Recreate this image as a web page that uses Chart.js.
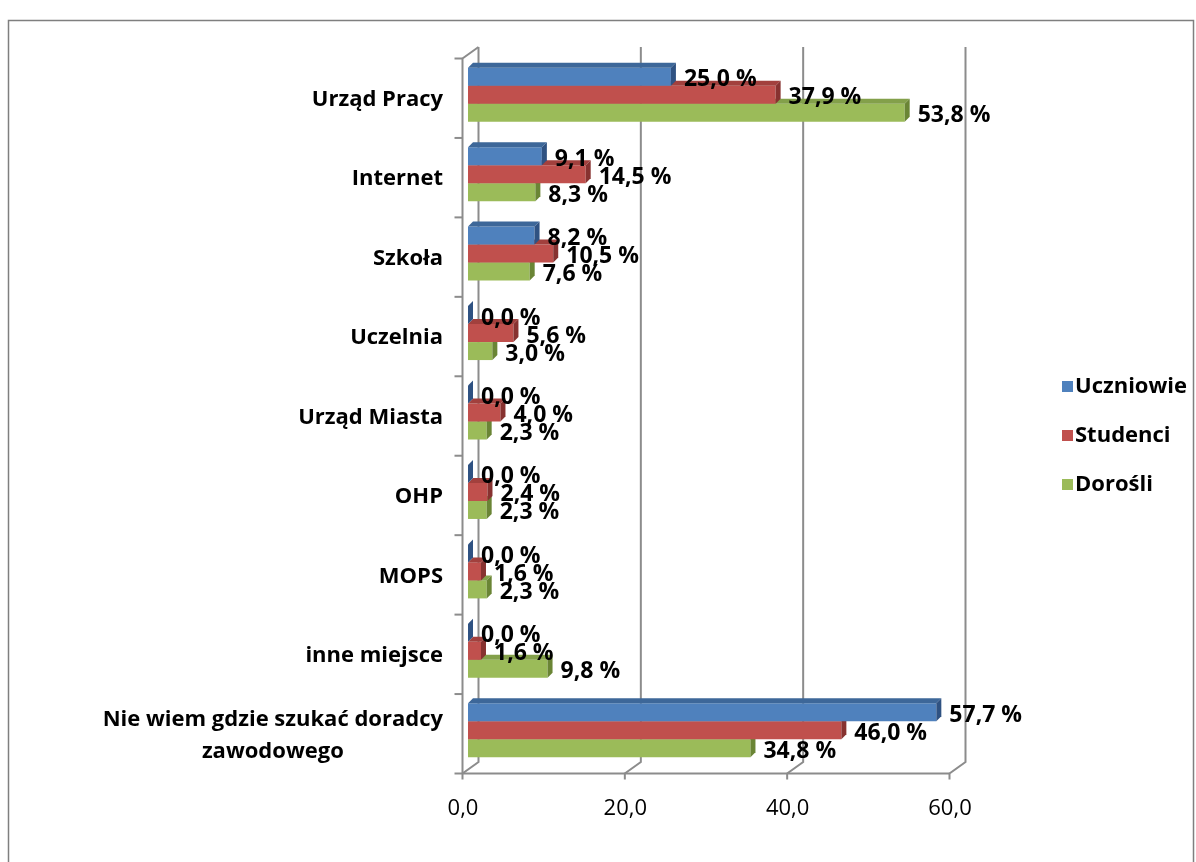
<!DOCTYPE html>
<html>
<head>
<meta charset="utf-8">
<script src="https://cdn.jsdelivr.net/npm/chart.js@4.4.0/dist/chart.umd.min.js"></script>
<style>
  body { margin: 0; background: #fff; }
  canvas { display: block; }
</style>
</head>
<body>
<canvas id="chart" width="1196" height="862"></canvas>
<script>
const categories = ['Urząd Pracy', 'Internet', 'Szkoła', 'Uczelnia', 'Urząd Miasta', 'OHP', 'MOPS', 'inne miejsce', ['Nie wiem gdzie szukać doradcy', 'zawodowego']];
const seriesNames = ['Uczniowie', 'Studenci', 'Dorośli'];
const uczniowie = [25.0, 9.1, 8.2, 0.0, 0.0, 0.0, 0.0, 0.0, 57.7];
const studenci = [37.9, 14.5, 10.5, 5.6, 4.0, 2.4, 1.6, 1.6, 46.0];
const dorosli = [53.8, 8.3, 7.6, 3.0, 2.3, 2.3, 2.3, 9.8, 34.8];
const xTicks = [0, 20, 40, 60];

const FONT = "'Open Sans', 'DejaVu Sans', sans-serif";
const colors = ['#4F81BD', '#C0504D', '#9BBB59'];
const topColors = ['#3D6799', '#A2403D', '#83A04A'];
const sideColors = ['#2F5282', '#873230', '#6A8535'];

// przesuniecia "3D" wzgledem plaszczyzny slupkow
const BX = 10.5, BY = -8, FX = -5.5, FY = 3.5, D = 5;

function fmt(v) {
  return v.toFixed(1).replace('.', ',');
}

const frame = {
  id: 'frame',
  beforeDraw(chart) {
    const ctx = chart.ctx;
    ctx.save();
    ctx.strokeStyle = '#7f7f7f';
    ctx.lineWidth = 1.5;
    ctx.strokeRect(8.5, 20.5, 1185, 900);
    ctx.restore();
  }
};

const walls = {
  id: 'walls',
  beforeDatasetsDraw(chart) {
    const ctx = chart.ctx, xs = chart.scales.x, ys = chart.scales.y, a = chart.chartArea;
    const px0 = xs.getPixelForValue(0);
    ctx.save();
    ctx.strokeStyle = '#8c8c8c';
    ctx.lineWidth = 2;
    xTicks.forEach(v => {
      const px = xs.getPixelForValue(v);
      ctx.beginPath();
      ctx.moveTo(px + BX, a.top + BY);
      ctx.lineTo(px + BX, a.bottom + BY);
      ctx.lineTo(px + FX, a.bottom + FY);
      ctx.lineTo(px + FX, a.bottom + FY + 6);
      ctx.stroke();
    });
    // os pozioma z przodu
    ctx.beginPath();
    ctx.moveTo(px0 + FX, a.bottom + FY);
    ctx.lineTo(xs.getPixelForValue(60) + FX, a.bottom + FY);
    ctx.stroke();
    // lewa sciana
    ctx.beginPath();
    ctx.moveTo(px0 + FX, a.bottom + FY);
    ctx.lineTo(px0 + FX, a.top + FY);
    ctx.lineTo(px0 + BX, a.top + BY);
    ctx.stroke();
    for (let i = 0; i <= categories.length; i++) {
      const y = ys.getPixelForValue(i - 0.5) + FY;
      ctx.beginPath();
      ctx.moveTo(px0 + FX - 8, y);
      ctx.lineTo(px0 + FX, y);
      ctx.stroke();
    }
    ctx.restore();
  }
};

const bars3d = {
  id: 'bars3d',
  afterDatasetDraw(chart, args) {
    const ctx = chart.ctx;
    const i = args.index;
    ctx.save();
    args.meta.data.forEach(el => {
      const p = el.getProps(['x', 'y', 'base', 'height'], true);
      const x0 = p.base, x1 = p.x, yt = p.y - p.height / 2, yb = p.y + p.height / 2;
      ctx.fillStyle = topColors[i];
      ctx.beginPath();
      ctx.moveTo(x0, yt);
      ctx.lineTo(x1, yt);
      ctx.lineTo(x1 + D, yt - D);
      ctx.lineTo(x0 + D, yt - D);
      ctx.closePath();
      ctx.fill();
      ctx.fillStyle = sideColors[i];
      ctx.beginPath();
      ctx.moveTo(x1, yt);
      ctx.lineTo(x1 + D, yt - D);
      ctx.lineTo(x1 + D, yb - D);
      ctx.lineTo(x1, yb);
      ctx.closePath();
      ctx.fill();
    });
    ctx.restore();
  },
  afterDatasetsDraw(chart) {
    const ctx = chart.ctx;
    ctx.save();
    ctx.font = 'bold 23px ' + FONT;
    ctx.fillStyle = '#000';
    ctx.textAlign = 'left';
    ctx.textBaseline = 'middle';
    chart.data.datasets.forEach((ds, i) => {
      chart.getDatasetMeta(i).data.forEach((el, j) => {
        const p = el.getProps(['x', 'y'], true);
        ctx.fillText(fmt(ds.data[j]) + ' %', p.x + 13, p.y + 3);
      });
    });
    ctx.restore();
  }
};

const labelsAndLegend = {
  id: 'labelsAndLegend',
  afterDraw(chart) {
    const ctx = chart.ctx, ys = chart.scales.y;
    ctx.save();
    ctx.font = 'bold 22px ' + FONT;
    ctx.fillStyle = '#000';
    ctx.textBaseline = 'middle';
    const right = 443;
    categories.forEach((c, i) => {
      const y = ys.getPixelForValue(i) + 5;
      if (Array.isArray(c)) {
        const w = Math.max(...c.map(s => ctx.measureText(s).width));
        ctx.textAlign = 'center';
        c.forEach((s, k) => {
          ctx.fillText(s, right - w / 2, y + (k - (c.length - 1) / 2) * 32);
        });
      } else {
        ctx.textAlign = 'right';
        ctx.fillText(c, right, y);
      }
    });
    // legenda
    ctx.textAlign = 'left';
    seriesNames.forEach((s, i) => {
      const y = 387 + i * 49;
      ctx.fillStyle = colors[i];
      ctx.fillRect(1062, y - 6, 11, 11);
      ctx.fillStyle = '#000';
      ctx.fillText(s, 1075, y);
    });
    ctx.restore();
  }
};

new Chart(document.getElementById('chart'), {
  type: 'bar',
  data: {
    labels: categories,
    datasets: [
      { label: seriesNames[0], data: uczniowie, backgroundColor: colors[0] },
      { label: seriesNames[1], data: studenci, backgroundColor: colors[1] },
      { label: seriesNames[2], data: dorosli, backgroundColor: colors[2] }
    ]
  },
  options: {
    indexAxis: 'y',
    responsive: false,
    animation: false,
    events: [],
    layout: { padding: { left: 468, right: 241, top: 55, bottom: 32 } },
    datasets: {
      bar: { barPercentage: 1, categoryPercentage: 0.68, borderWidth: 0 }
    },
    plugins: {
      legend: { display: false },
      tooltip: { enabled: false }
    },
    scales: {
      y: { display: false },
      x: {
        min: 0,
        max: 60,
        afterBuildTicks(scale) {
          scale.ticks = xTicks.map(v => ({ value: v }));
        },
        afterFit(scale) {
          scale.height = 60;
        },
        grid: { display: false },
        border: { display: false },
        ticks: {
          padding: 18,
          labelOffset: -5,
          color: '#000',
          font: { family: FONT, size: 22 },
          callback: v => fmt(v)
        }
      }
    }
  },
  plugins: [frame, walls, bars3d, labelsAndLegend]
});
</script>
</body>
</html>
